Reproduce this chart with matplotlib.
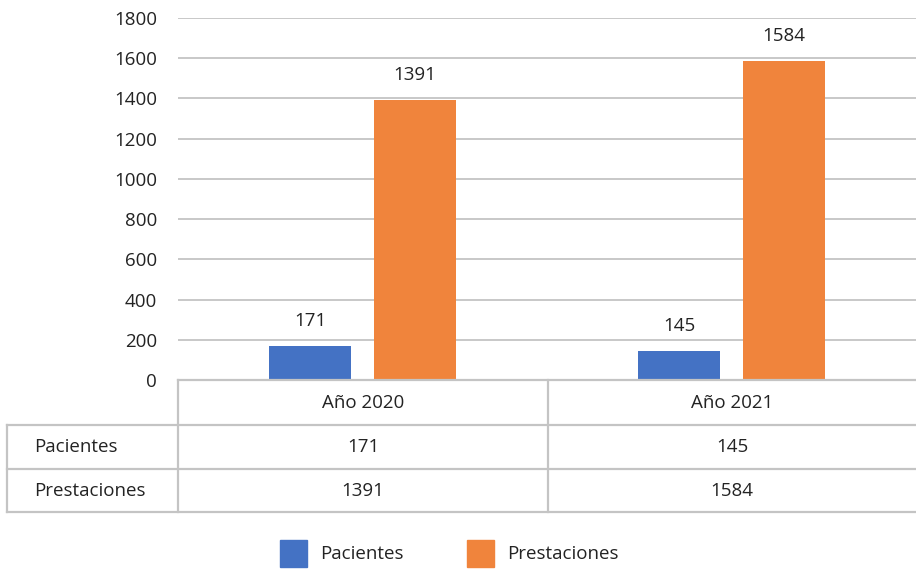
import matplotlib
matplotlib.use("Agg")
import matplotlib.pyplot as plt
from matplotlib.lines import Line2D
from matplotlib.patches import Rectangle
import numpy as np

categories = ["Año 2020", "Año 2021"]
series_names = ["Pacientes", "Prestaciones"]
pacientes = [171, 145]
prestaciones = [1391, 1584]
yticks = [0, 200, 400, 600, 800, 1000, 1200, 1400, 1600, 1800]

colors = ["#4472C4", "#F0843C"]
text_color = "#232323"
line_color = "#c4c4c4"
FS = 13.5

plt.rcParams['font.family'] = ['Open Sans', 'DejaVu Sans']

W, H = 916, 569
fig = plt.figure(figsize=(W / 100, H / 100), dpi=100)

def fx(px):
    return px / W

def fy(py):
    return 1 - py / H

ax = fig.add_axes([fx(178), fy(380), fx(916) - fx(178), fy(18) - fy(380)])
x = np.arange(len(categories))
bw = 0.222
off = 0.142
series = [pacientes, prestaciones]
for i, (vals, c) in enumerate(zip(series, colors)):
    pos = x + (-off if i == 0 else off)
    bars = ax.bar(pos, vals, width=bw, color=c, zorder=3)
    for b, v in zip(bars, vals):
        ax.annotate(str(v), (b.get_x() + b.get_width() / 2, v),
                    xytext=(0, 18), textcoords="offset points",
                    ha="center", va="center", fontsize=FS, color=text_color)

ax.set_xlim(-0.5, 1.5)
ax.set_ylim(0, 1800)
ax.set_yticks(yticks)
ax.set_yticklabels([str(t) for t in yticks], fontsize=FS, color=text_color)
ax.tick_params(axis="y", length=0, pad=15)
ax.set_xticks([])
ax.grid(axis="y", color=line_color, linewidth=1.3, zorder=0)
for s in ax.spines.values():
    s.set_visible(False)

# Data table
lw = 1.6
rows_y = [380, 425, 469, 512]
col_x = [7, 178, 548, 916]
fig.add_artist(Line2D([fx(178), fx(916)], [fy(380), fy(380)], color=line_color, lw=lw))
for yy in rows_y[1:]:
    fig.add_artist(Line2D([fx(7), fx(916)], [fy(yy), fy(yy)], color=line_color, lw=lw))
fig.add_artist(Line2D([fx(7), fx(7)], [fy(425), fy(512)], color=line_color, lw=lw))
for xx in col_x[1:3]:
    fig.add_artist(Line2D([fx(xx), fx(xx)], [fy(380), fy(512)], color=line_color, lw=lw))

centers = [(col_x[1] + col_x[2]) / 2, (col_x[2] + col_x[3]) / 2]
for cx, cat in zip(centers, categories):
    fig.text(fx(cx), fy(403), cat, ha="center", va="center", fontsize=FS, color=text_color)
for r, (name, vals) in enumerate(zip(series_names, series)):
    yc = (rows_y[r + 1] + rows_y[r + 2]) / 2
    fig.text(fx(34), fy(yc), name, ha="left", va="center", fontsize=FS, color=text_color)
    for cx, v in zip(centers, vals):
        fig.text(fx(cx), fy(yc), str(v), ha="center", va="center", fontsize=FS, color=text_color)

# Legend
leg_x = [280, 467]
for lx, name, c in zip(leg_x, series_names, colors):
    fig.add_artist(Rectangle((fx(lx), fy(567)), fx(27), fy(540) - fy(567),
                             transform=fig.transFigure, color=c))
    fig.text(fx(lx + 40), fy(554), name, ha="left", va="center", fontsize=FS, color=text_color)

fig.savefig("out.png", dpi=100)
